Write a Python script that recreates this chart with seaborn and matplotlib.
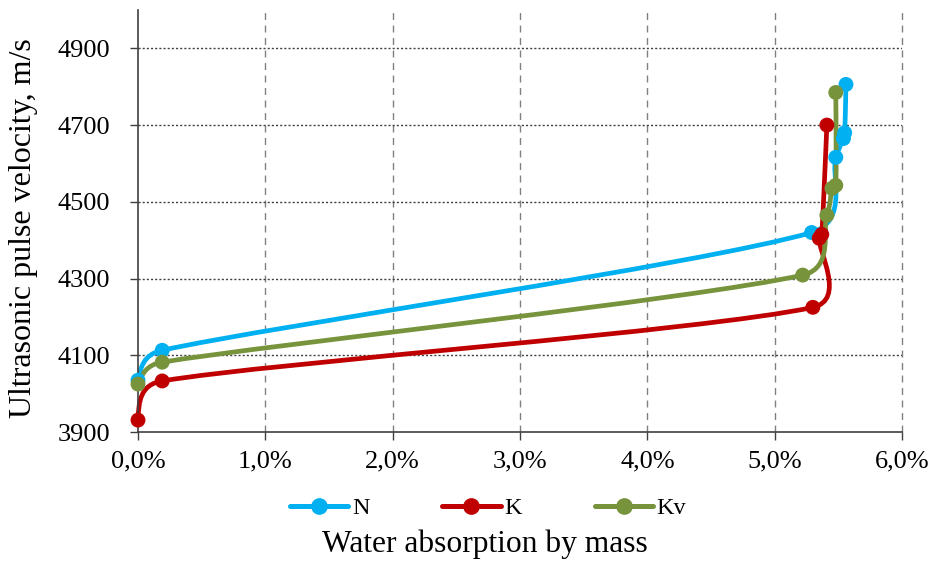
import numpy as np
import pandas as pd
import matplotlib
matplotlib.use("Agg")
import matplotlib.pyplot as plt
import seaborn as sns
from matplotlib.path import Path
from matplotlib.patches import PathPatch
from matplotlib.lines import Line2D
from matplotlib.ticker import FuncFormatter

# ---- data (x in % of mass, y in m/s) ----
N_x = [0.00, 0.19, 5.29, 5.48, 5.54, 5.55, 5.56]
N_y = [4035, 4113, 4420, 4616, 4665, 4680, 4806]
K_x = [0.00, 0.19, 5.30, 5.35, 5.37, 5.41]
K_y = [3931, 4033, 4225, 4405, 4415, 4700]
Kv_x = [0.00, 0.19, 5.22, 5.41, 5.45, 5.48, 5.48]
Kv_y = [4025, 4082, 4309, 4465, 4535, 4543, 4785]
series_names = ["N", "K", "Kv"]
colors = {"N": "#00B0F0", "K": "#C00000", "Kv": "#77933C"}
x_ticks = [0, 1, 2, 3, 4, 5, 6]
y_ticks = [3900, 4100, 4300, 4500, 4700, 4900]

frames = []
for name, xs, ys in [("N", N_x, N_y), ("K", K_x, K_y), ("Kv", Kv_x, Kv_y)]:
    frames.append(pd.DataFrame({"x": xs, "y": ys, "s": name, "i": range(len(xs))}))
df = pd.concat(frames, ignore_index=True)

sns.set_style("white")
plt.rcParams["font.family"] = ["Liberation Serif", "DejaVu Serif"]
plt.rcParams["text.color"] = "black"
plt.rcParams["xtick.labelcolor"] = "black"
plt.rcParams["ytick.labelcolor"] = "black"

fig = plt.figure(figsize=(9.3, 5.63), dpi=100)
ax = fig.add_axes([138/930, 1-432/563, 764/930, 422/563])
ax.set_xlim(0, 6)
ax.set_ylim(3900, 5000)

# grid
for xv in x_ticks[1:]:
    ax.axvline(xv, color="#808080", lw=1.0, ls=(0, (5, 4)), zorder=0, clip_on=False)
for yv in y_ticks[1:]:
    ax.axhline(yv, color="#404040", lw=1.0, ls=(0, (1.5, 1.5)), zorder=0)

def smooth_patch(xs, ys, color):
    pts = ax.transData.transform(np.column_stack([xs, ys]))
    n = len(pts)
    verts = [pts[0]]
    codes = [Path.MOVETO]
    tang = []
    for i in range(n):
        if i == 0 or i == n - 1:
            tang.append(None)
        else:
            tang.append((pts[i+1] - pts[i-1]) / 6.0)
    for i in range(n - 1):
        p0, p1 = pts[i], pts[i+1]
        L = np.linalg.norm(p1 - p0)
        c1 = c2 = None
        if tang[i] is not None:
            t = tang[i]
            tl = np.linalg.norm(t)
            if tl > 0.5 * L:
                t = t / tl * 0.5 * L
            c1 = p0 + t
        if tang[i+1] is not None:
            t = tang[i+1]
            tl = np.linalg.norm(t)
            if tl > 0.5 * L:
                t = t / tl * 0.5 * L
            c2 = p1 - t
        if c1 is None and c2 is None:
            c1 = p0 + (p1 - p0) / 3
            c2 = p1 - (p1 - p0) / 3
        elif c1 is None:
            c1 = p0 + (c2 - p0) * 0.5
        elif c2 is None:
            c2 = p1 + (c1 - p1) * 0.5
        verts += [c1, c2, p1]
        codes += [Path.CURVE4] * 3
    verts = ax.transData.inverted().transform(np.array(verts))
    patch = PathPatch(Path(verts, codes), facecolor="none", edgecolor=color,
                      lw=3.4, capstyle="round", joinstyle="round", zorder=2,
                      clip_on=False)
    ax.add_patch(patch)

for name in series_names:
    d = df[df.s == name].sort_values("i")
    smooth_patch(d.x.values, d.y.values, colors[name])

sns.scatterplot(data=df, x="x", y="y", hue="s", palette=colors, s=115,
                edgecolor="none", legend=False, ax=ax, zorder=3, clip_on=False)

ax.set_xticks(x_ticks)
ax.set_yticks(y_ticks)
ax.xaxis.set_major_formatter(FuncFormatter(lambda v, p: f"{v:.1f}%".replace(".", ",")))
ax.tick_params(axis="both", labelsize=19, length=6, width=1, color="#404040",
               labelcolor="black", direction="out", bottom=True, left=True)
ax.tick_params(axis="x", pad=7)
ax.tick_params(axis="y", pad=14)
ax.set_xlabel("")
ax.set_ylabel("")
for sp in ["top", "right"]:
    ax.spines[sp].set_visible(False)
for sp in ["left", "bottom"]:
    ax.spines[sp].set_color("#404040")
    ax.spines[sp].set_linewidth(1.2)

handles = [Line2D([0], [0], color=colors[n], lw=3.6, marker="o", markersize=11,
                  label=n) for n in series_names]
leg = fig.legend(handles=handles, loc="center", bbox_to_anchor=(488/930, 1-508/563),
                 ncol=3, frameon=False, fontsize=17.5, handlelength=2.4,
                 handletextpad=0.15, columnspacing=3.0, borderpad=0)
for t in leg.get_texts():
    t.set_color("black")

fig.text(485/930, 1-544/563, "Water absorption by mass", ha="center", va="center",
         fontsize=22.7, color="black")
fig.text(24/930, 1-228/563, "Ultrasonic pulse velocity, m/s", ha="center",
         va="center", rotation=90, fontsize=23, color="black")

fig.savefig("out.png", dpi=100)
